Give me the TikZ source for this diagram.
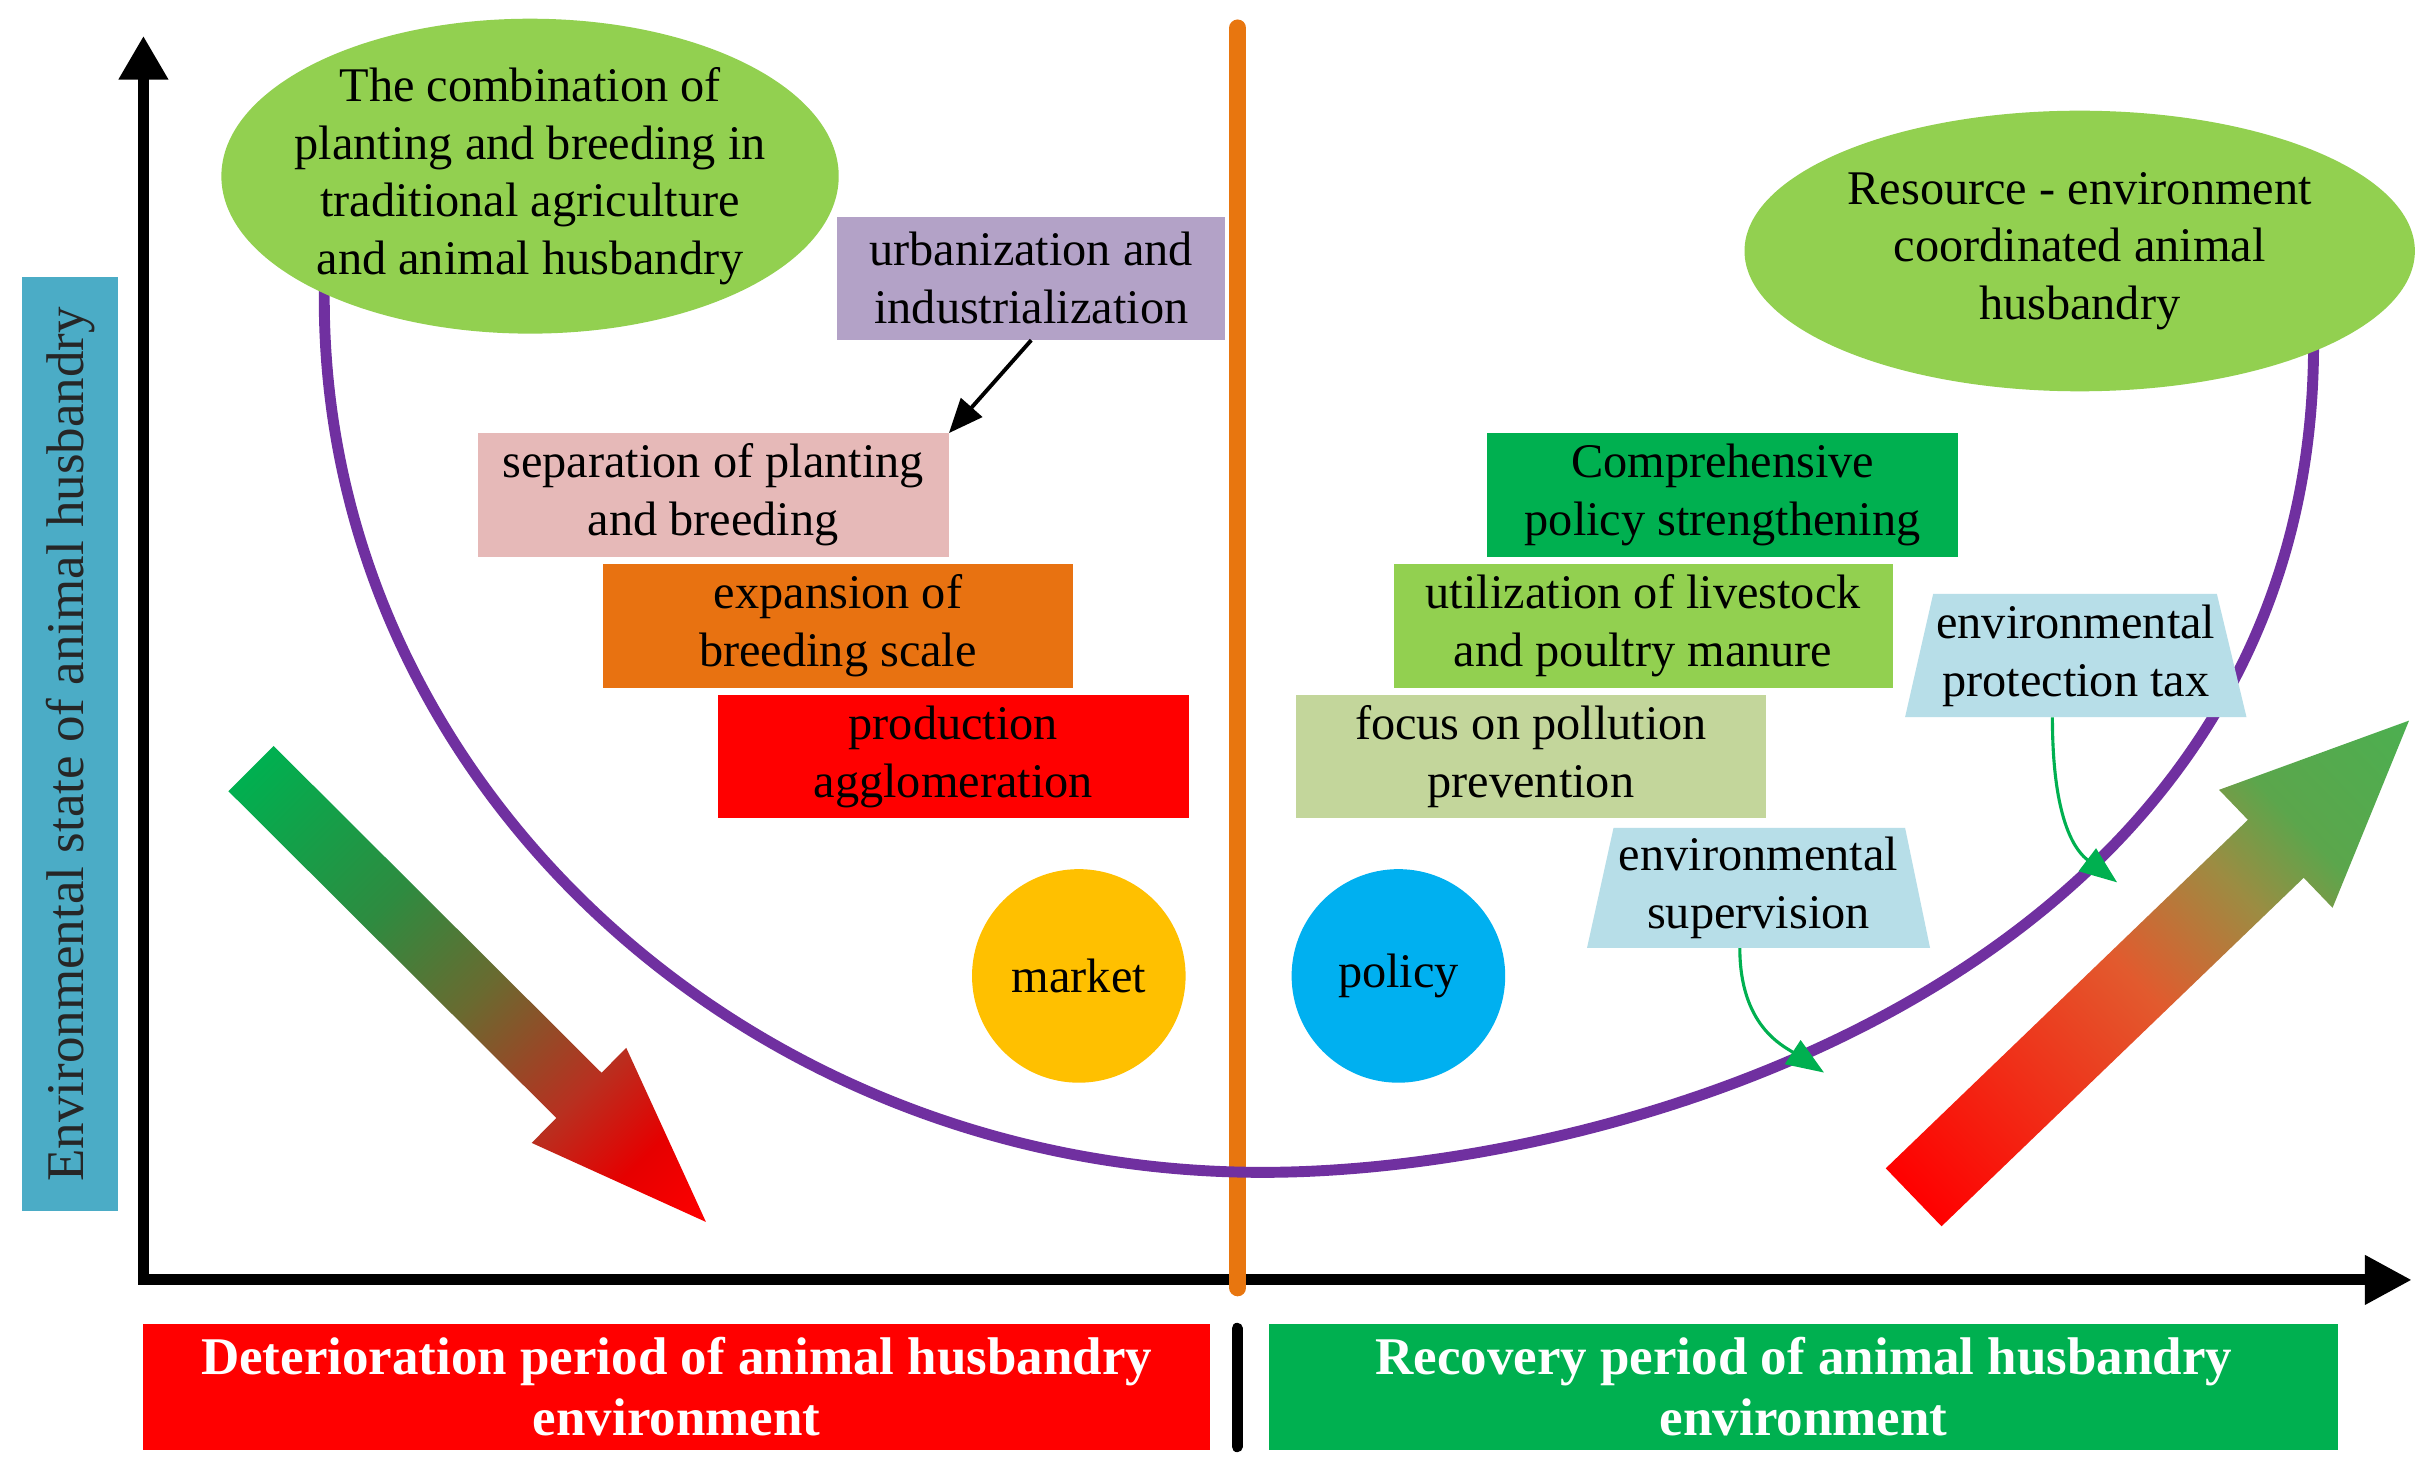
\documentclass[tikz,border=0pt]{standalone}
\usepackage{fontspec}
\setmainfont{Liberation Serif}
\usetikzlibrary{shapes.geometric,arrows.meta}
\definecolor{egreen}{HTML}{92D050}
\definecolor{curvepurple}{HTML}{7030A0}
\definecolor{divorange}{HTML}{E8760F}
\definecolor{urbpurple}{HTML}{B3A2C7}
\definecolor{seppink}{HTML}{E6B9B8}
\definecolor{exporange}{HTML}{E87211}
\definecolor{prodred}{HTML}{FF0000}
\definecolor{compgreen}{HTML}{00B050}
\definecolor{focusgreen}{HTML}{C3D69B}
\definecolor{tzblue}{HTML}{B7DEE8}
\definecolor{mktyellow}{HTML}{FFC000}
\definecolor{polblue}{HTML}{00B0F0}
\definecolor{labelblue}{HTML}{4BACC6}
\definecolor{tipgreen}{HTML}{4CAF50}
\definecolor{headgreen}{HTML}{5BA64C}
\definecolor{midorange}{HTML}{E25A2E}
\definecolor{olive}{HTML}{9C8C42}
\definecolor{darkgr}{HTML}{2E8B40}
\definecolor{brownish}{HTML}{6A6A30}
\definecolor{redbrown}{HTML}{B83020}
\pgfdeclarehorizontalshading{uparrowshade}{100bp}{color(0bp)=(red); color(25bp)=(red); color(47.5bp)=(midorange); color(57.5bp)=(olive); color(64bp)=(headgreen); color(75bp)=(tipgreen); color(100bp)=(tipgreen)}
\pgfdeclarehorizontalshading{downarrowshade}{100bp}{color(0bp)=(compgreen); color(25bp)=(compgreen); color(40bp)=(darkgr); color(50bp)=(brownish); color(61bp)=(redbrown); color(68bp)=(red!90!black); color(75bp)=(red); color(100bp)=(red)}
\begin{document}
\begin{tikzpicture}[x=1pt,y=-1pt,
  txt/.style={font=\fontsize{31}{37}\selectfont, align=center, text=black, inner sep=0pt},
  rbox/.style={txt, rectangle, minimum height=79pt},
  bar/.style={rectangle, inner sep=0pt, minimum width=#1, minimum height=81pt, text=white, align=center, font=\bfseries\fontsize{34}{39}\selectfont},
  greenarrow/.style={compgreen, line width=2pt, -{Triangle[length=24pt,width=18pt]}},
  blob/.style={ellipse, fill=egreen, inner sep=0pt},
  disc/.style={circle, minimum size=137pt, txt}
]
\useasboundingbox (0,0) rectangle (1560,941.6);
\fill[white] (0,0) rectangle (1560,941.6);

% axes
\coordinate (O) at (92,821);
\coordinate (ytip) at (92,23);
\coordinate (xtip) at (1547,821);
\draw[line width=7pt, line join=miter, {Triangle[length=28pt,width=30pt]}-{Triangle[length=30pt,width=30pt]}] (ytip) -- (O) -- (xtip);

% y label
\node[rotate=90, fill=labelblue, minimum width=599pt, minimum height=62pt, inner sep=0pt,
      font=\fontsize{34}{40}\selectfont, text=black!85] (ylabel) at (45,477.5) {Environmental state of animal husbandry};

% big gradient arrows
\shade[transform canvas={shift={(161,493)}, rotate=-44.9}, shading=downarrowshade]
  (0,-20.5) -- (297,-20.5) -- (297,-43) -- (412,0) -- (297,43) -- (297,20.5) -- (0,20.5) -- cycle;
\shade[transform canvas={shift={(1227.5,768)}, rotate=43.9}, shading=uparrowshade]
  (0,-25.8) -- (322.4,-25.8) -- (322.4,-52.5) -- (441,0) -- (322.4,52.5) -- (322.4,25.8) -- (0,25.8) -- cycle;

% divider
\coordinate (divtop) at (794,18);
\coordinate (divbot) at (794,826);
\draw[divorange, line width=11pt, line cap=round] (divtop) -- (divbot);

% U curve
\coordinate (cstart) at (208,180);
\coordinate (cend) at (1484,215);
\draw[curvepurple, line width=7pt] (cstart) -- (208,192) .. controls (208,501) and (478,752) .. (810,752)
   .. controls (1045,752) and (1488,620) .. (cend);

% ellipses
\node[blob, minimum width=396pt, minimum height=202pt] (combshape) at (340,113) {};
\node[txt] (comb) at (combshape.center) {The combination of\\planting and breeding in\\traditional agriculture\\and animal husbandry};
\node[blob, minimum width=430pt, minimum height=180pt] (resshape) at (1334,161) {};
\node[txt] (res) at (resshape.center) {Resource - environment\\coordinated animal\\husbandry};

% left boxes
\node[rbox, fill=urbpurple, minimum width=249pt] (urb) at (661.5,178.5) {urbanization and\\industrialization};
\node[rbox, fill=seppink, minimum width=302pt] (sep) at (457.5,317.5) {separation of planting\\and breeding};
\node[rbox, fill=exporange, minimum width=302pt] (exp) at (537.5,401.5) {expansion of\\breeding scale};
\node[rbox, fill=prodred, minimum width=302pt] (prod) at (611.5,485.5) {production\\agglomeration};
\draw[line width=2.5pt, -{Triangle[length=22pt,width=18pt]}] (urb.south) -- (sep.north east);

% right boxes
\node[rbox, fill=compgreen, minimum width=302pt] (comp) at (1105,317.5) {Comprehensive\\policy strengthening};
\node[rbox, fill=egreen, minimum width=320pt] (util) at (1054,401.5) {utilization of livestock\\and poultry manure};
\node[rbox, fill=focusgreen, minimum width=302pt] (focus) at (982,485.5) {focus on pollution\\prevention};

% trapezoids
\fill[tzblue] (1240,381) -- (1422,381) -- (1441,460) -- (1222,460) -- cycle;
\node[txt, minimum width=219pt, minimum height=79pt] (tax) at (1331.5,420.5) {environmental\\protection tax};
\fill[tzblue] (1035,531) -- (1222,531) -- (1238,608) -- (1018,608) -- cycle;
\node[txt, minimum width=220pt, minimum height=77pt] (sup) at (1128,569.5) {environmental\\supervision};

\coordinate (taxout) at ([xshift=-15pt]tax.south);
\coordinate (taxin) at (1358,566);
\draw[greenarrow] (taxout) .. controls +(0,70) and +(-25,-19) .. (taxin);
\coordinate (supout) at ([xshift=-12pt]sup.south);
\coordinate (supin) at (1170,688);
\draw[greenarrow] (supout) .. controls +(0,50) and +(-26,-17) .. (supin);

% circles
\node[disc, fill=mktyellow] (market) at (692,626) {market};
\node[disc, fill=polblue] (policy) at (897,626) {policy};

% bottom bars
\node[bar=684pt, fill=red] (det) at (434,889.5) {Deterioration period of animal husbandry\\environment};
\node[bar=686pt, fill=compgreen] (rec) at (1157,889.5) {Recovery period of animal husbandry\\environment};
\coordinate (septop) at (793.5,852);
\coordinate (sepbot) at (793.5,928);
\draw[line width=7pt, line cap=round] (septop) -- (sepbot);
\end{tikzpicture}
\end{document}
